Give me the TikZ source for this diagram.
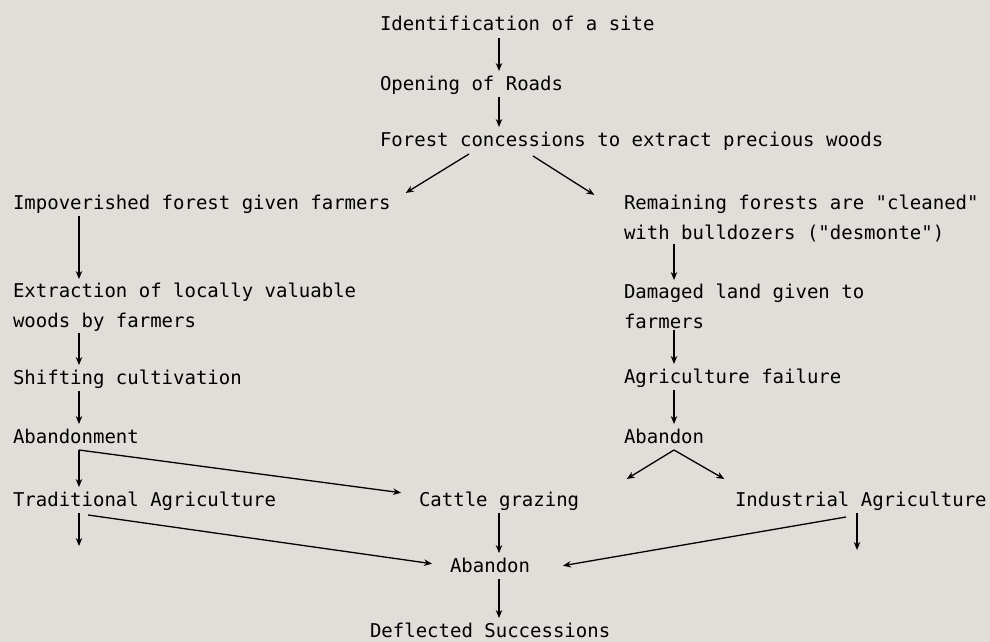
\documentclass[tikz,border=0pt]{standalone}
\usepackage{fontspec}
\setmonofont{DejaVu Sans Mono}
\usetikzlibrary{arrows.meta}
\usetikzlibrary{calc}
\definecolor{paper}{RGB}{225,222,217}
\tikzset{
    item/.style={
        anchor=base west,
        inner sep=0pt,
        outer sep=2pt,
        text height=15pt,
        text depth=5pt,
        font=\ttfamily\fontsize{19}{29.5}\selectfont
    },
    pair/.style={
        anchor=north west,
        align=left,
        inner sep=0pt,
        outer sep=2pt,
        font=\ttfamily\fontsize{19}{29.5}\selectfont
    },
    flow/.style={
        ->,
        >={Stealth[length=8pt,width=6.5pt]},
        line width=1.3pt,
        draw=black,
        shorten >=2pt
    }
}

\begin{document}
\begin{tikzpicture}[x=1pt, y=-1pt]
\fill[paper] (0,0) rectangle (990,642);
\useasboundingbox (0,0) rectangle (990,642);
\coordinate (leftcol) at (79,0);
\coordinate (midcol) at (499,0);
\coordinate (rightcol) at (674,0);
\coordinate (indcol) at (857,0);

\node[item] (site) at (378,31) {Identification of a site};
\node[item] (roads) at (378,90) {Opening of Roads};
\node[item] (conc) at (378,146) {Forest concessions to extract precious woods};

\node[item] (impov) at (11,209) {Impoverished forest given farmers};
\node[pair] (extr) at (11,281) {Extraction of locally valuable\\woods by farmers};
\node[item] (shift) at (11,384) {Shifting cultivation};
\node[item] (aband1) at (11,443) {Abandonment};
\node[item] (trad) at (11,506) {Traditional Agriculture};

\node[pair] (remain) at (622,193) {Remaining forests are "cleaned"\\with bulldozers ("desmonte")};
\node[pair] (damaged) at (622,282) {Damaged land given to\\farmers};
\node[item] (failure) at (622,383) {Agriculture failure};
\node[item] (aband2) at (622,443) {Abandon};
\node[item] (indus) at (733,506) {Industrial Agriculture};

\node[item] (cattle) at (417,506) {Cattle grazing};
\node[item] (aband3) at (448,572) {Abandon};
\node[item] (deflect) at (368,637) {Deflected Successions};

\coordinate (tradend) at (79,548);
\coordinate (indend) at (857,552);
\coordinate (forkL) at (625,480);
\coordinate (forkR) at (726,480);

\draw[flow] (site.south -| midcol) -- (roads.north -| midcol);
\draw[flow] (roads.south -| midcol) -- (conc.north -| midcol);
\draw[flow] ($(conc.south west)+(91,1)$) -- ($(impov.north west)+(393,2)$);
\draw[flow] ($(conc.south west)+(155,3)$) -- ($(remain.north west)+(-26,3)$);

\draw[flow] (impov.south -| leftcol) -- (extr.north -| leftcol);
\draw[flow] (extr.south -| leftcol) -- (shift.north -| leftcol);
\draw[flow] (shift.south -| leftcol) -- (aband1.north -| leftcol);
\draw[flow] (aband1.south -| leftcol) -- (trad.north -| leftcol);
\draw[flow] (aband1.south -| leftcol) -- ($(cattle.north west)+(-14,4)$);
\draw[flow] (trad.south -| leftcol) -- (tradend);
\draw[flow] ($(trad.south west)+(77,2)$) -- ($(aband3.west)+(-14,-3)$);

\draw[flow] (remain.south -| rightcol) -- (damaged.north -| rightcol);
\draw[flow] (damaged.south -| rightcol) -- (failure.north -| rightcol);
\draw[flow] (failure.south -| rightcol) -- (aband2.north -| rightcol);
\draw[flow] (aband2.south -| rightcol) -- (forkL);
\draw[flow] (aband2.south -| rightcol) -- (forkR);
\draw[flow] (indus.south -| indcol) -- (indend);
\draw[flow] ($(indus.south west)+(113,4)$) -- ($(aband3.west)+(113,-1)$);

\draw[flow] (cattle.south -| midcol) -- (aband3.north -| midcol);
\draw[flow] (aband3.south -| midcol) -- (deflect.north -| midcol);
\end{tikzpicture}
\end{document}
